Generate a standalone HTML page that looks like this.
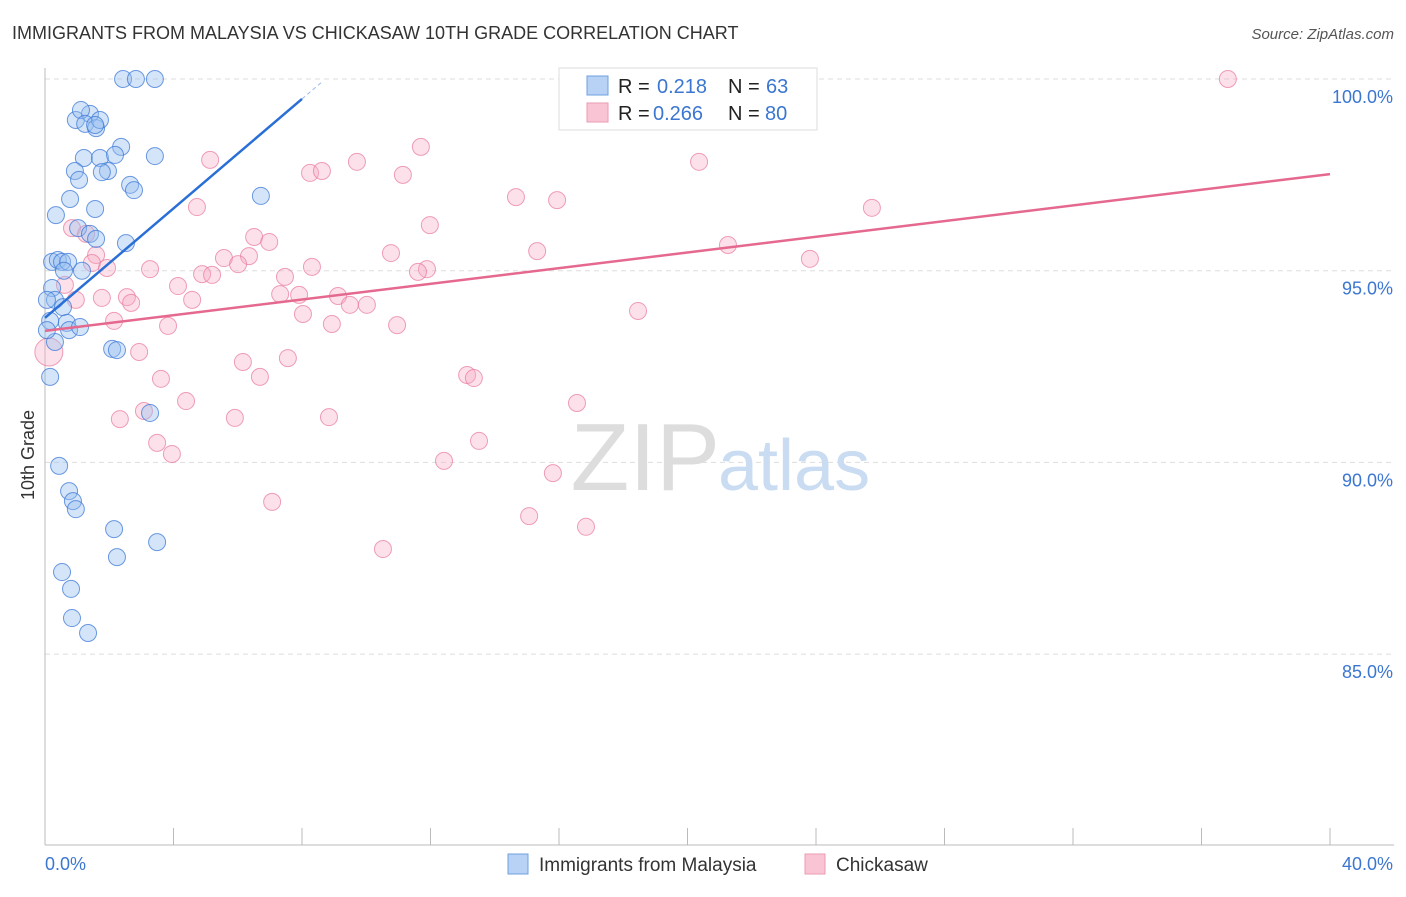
<!DOCTYPE html>
<html><head><meta charset="utf-8"><style>
body{margin:0;background:#fff;font-family:"Liberation Sans",sans-serif;}
svg text{font-family:"Liberation Sans",sans-serif;}
</style></head><body>
<svg id="chart" width="1406" height="892" xmlns="http://www.w3.org/2000/svg">
<text x="12" y="39" font-size="18" fill="#333">IMMIGRANTS FROM MALAYSIA VS CHICKASAW 10TH GRADE CORRELATION CHART</text>
<text x="1394" y="39" font-size="15" fill="#555" text-anchor="end" font-style="italic">Source: ZipAtlas.com</text>
<g id="grid"></g>
<g id="axes"></g>
<text x="720" y="490" font-size="96" font-family="Liberation Serif" fill="#ddd" text-anchor="end">ZIP</text>
<text x="718" y="490" font-size="72" fill="#c9dcf2">atlas</text>
<g id="pts"></g>
<g id="lines"></g>
<text transform="translate(34,455) rotate(-90)" font-size="18" fill="#333" text-anchor="middle">10th Grade</text>
<g>
<rect x="559" y="68" width="258" height="62" fill="#fff" stroke="#ddd"/>
<rect x="587" y="76" width="21" height="19" fill="#b7d2f5" stroke="#6fa0e0"/>
<rect x="587" y="103" width="21" height="19" fill="#f9c5d5" stroke="#ec9ab3"/>
<text x="618" y="93" font-size="20" fill="#222">R = </text><text x="657" y="93" font-size="20" fill="#3b76d1">0.218</text>
<text x="728" y="93" font-size="20" fill="#222">N = </text><text x="766" y="93" font-size="20" fill="#3b76d1">63</text>
<text x="618" y="120" font-size="20" fill="#222">R = </text><text x="653" y="120" font-size="20" fill="#3b76d1">0.266</text>
<text x="728" y="120" font-size="20" fill="#222">N = </text><text x="765" y="120" font-size="20" fill="#3b76d1">80</text>
</g>
<g>
<rect x="508" y="854" width="20" height="20" fill="#b7d2f5" stroke="#6fa0e0"/>
<text x="539" y="871" font-size="19" fill="#333">Immigrants from Malaysia</text>
<rect x="805" y="854" width="20" height="20" fill="#f9c5d5" stroke="#ec9ab3"/>
<text x="836" y="871" font-size="19" fill="#333">Chickasaw</text>
</g>
</svg>
<script>
const xTicks=[0,40];
const yTicks=[85,90,95,100];
const blueX=[2.43,2.83,3.42,0.96,1.40,1.12,1.25,1.59,1.71,1.56,2.37,1.21,1.71,2.18,3.42,0.93,1.96,1.77,1.06,2.65,2.77,6.72,0.78,1.56,0.34,1.03,1.40,1.59,2.52,0.22,0.40,0.53,0.72,0.59,1.15,0.22,0.31,0.56,0.16,0.68,0.75,1.09,0.31,2.09,2.24,0.16,3.27,0.44,0.75,0.87,0.96,2.15,3.49,2.24,0.53,0.81,0.84,1.34,0.06,0.06];
const blueY=[100,100,100,98.93,99.09,99.19,98.83,98.72,98.93,98.80,98.23,97.94,97.94,98.02,97.99,97.60,97.60,97.57,97.37,97.24,97.10,96.95,96.87,96.61,96.45,96.11,95.96,95.83,95.72,95.23,95.28,95.23,95.23,95.0,95.0,94.55,94.24,94.05,93.69,93.64,93.45,93.53,93.14,92.96,92.93,92.23,91.29,89.91,89.25,88.99,88.78,88.26,87.92,87.53,87.14,86.70,85.94,85.55,93.45,94.24];
const pinkX=[18.31,21.01,21.88,36.82,11.70,5.14,9.71,20.36,8.25,8.62,11.14,14.66,15.94,4.73,25.74,11.98,0.84,1.28,6.51,6.98,15.32,21.26,10.77,6.35,5.57,6.01,23.81,1.59,1.46,1.93,3.27,8.31,4.89,5.20,7.47,11.89,11.61,4.14,0.62,7.32,7.91,9.12,1.77,2.55,2.68,4.58,9.49,10.02,0.96,8.03,2.15,3.83,8.93,10.96,18.46,0.12,2.93,6.16,7.56,3.61,6.69,13.14,13.35,4.39,16.56,3.08,2.33,5.91,8.84,3.49,3.95,13.51,12.42,15.81,7.07,15.07,16.84,10.52];
const pinkY=[100,100,100,100,98.23,97.89,97.84,97.84,97.55,97.60,97.50,96.92,96.84,96.66,96.64,96.19,96.11,95.96,95.88,95.75,95.51,95.67,95.46,95.38,95.33,95.17,95.31,95.41,95.20,95.07,95.04,95.10,94.91,94.89,94.84,95.04,94.97,94.60,94.63,94.39,94.37,94.34,94.29,94.31,94.16,94.24,94.11,94.11,94.24,93.87,93.69,93.56,93.61,93.58,93.95,92.88,92.88,92.62,92.72,92.18,92.23,92.28,92.20,91.60,91.55,91.34,91.13,91.16,91.18,90.51,90.22,90.56,90.04,89.72,88.97,88.60,88.32,87.74];
const blueTrend=[[0,93.77],[8.0,99.48]];
const pinkTrend=[[0,93.43],[40,97.52]];
const X=v=>45+v*32.125, Y=v=>79+(100-v)*38.34;
const NS="http://www.w3.org/2000/svg";
function mk(tag,attrs,parent){const e=document.createElementNS(NS,tag);for(const k in attrs)e.setAttribute(k,attrs[k]);parent.appendChild(e);return e;}
const grid=document.getElementById('grid'),axes=document.getElementById('axes');
yTicks.forEach(t=>{
 const l=mk('line',{x1:45,x2:1394,y1:Y(t),y2:Y(t),stroke:'#ddd','stroke-dasharray':'5,4'},grid);
 
 
 const tx=mk('text',{x:1393,y:Y(t)+24,'font-size':18,fill:'#3b76d1','text-anchor':'end'},grid);
 tx.textContent=t.toFixed(1)+'%';
 
 
});
mk('line',{x1:45,x2:45,y1:68,y2:845,stroke:'#bbb'},axes);
mk('line',{x1:45,x2:1394,y1:845,y2:845,stroke:'#bbb'},axes);
for(let i=0;i<=10;i++){const x=X(i*4);const tk=mk('line',{x1:x,x2:x,y1:828,y2:845,stroke:'#bbb'},axes);
 
 }
xTicks.forEach((t,i)=>{const tx=mk('text',{x:i?1393:45,y:870,'font-size':18,fill:'#3b76d1','text-anchor':i?'end':'start'},axes);
 tx.textContent=t.toFixed(1)+'%';
 
 });
const pts=document.getElementById('pts');
pinkX.forEach((v,i)=>{const c=mk('circle',{cx:X(v),cy:Y(pinkY[i]),r:i==55?14:8.5,fill:'rgba(247,170,195,0.35)',stroke:'rgba(232,120,155,0.7)','stroke-width':1},pts);
 
 });
blueX.forEach((v,i)=>{const c=mk('circle',{cx:X(v),cy:Y(blueY[i]),r:8.5,fill:'rgba(150,190,240,0.4)',stroke:'rgba(60,120,215,0.75)','stroke-width':1},pts);
 
 });
const lines=document.getElementById('lines');
const bl=mk('line',{x1:X(blueTrend[0][0]),y1:Y(blueTrend[0][1]),x2:X(blueTrend[1][0]),y2:Y(blueTrend[1][1]),stroke:'#2a6fd6','stroke-width':2.5},lines);


const slope=(blueTrend[1][1]-blueTrend[0][1])/(blueTrend[1][0]-blueTrend[0][0]);
const ext=mk('line',{x1:X(blueTrend[1][0]),y1:Y(blueTrend[1][1]),x2:X(8.6),y2:Y(blueTrend[0][1]+slope*8.6),stroke:'#9bbbe8','stroke-width':1,'stroke-dasharray':'4,3'},lines);


const pl=mk('line',{x1:X(pinkTrend[0][0]),y1:Y(pinkTrend[0][1]),x2:X(pinkTrend[1][0]),y2:Y(pinkTrend[1][1]),stroke:'#e5688f','stroke-width':2.5},lines);


</script>
</body></html>
